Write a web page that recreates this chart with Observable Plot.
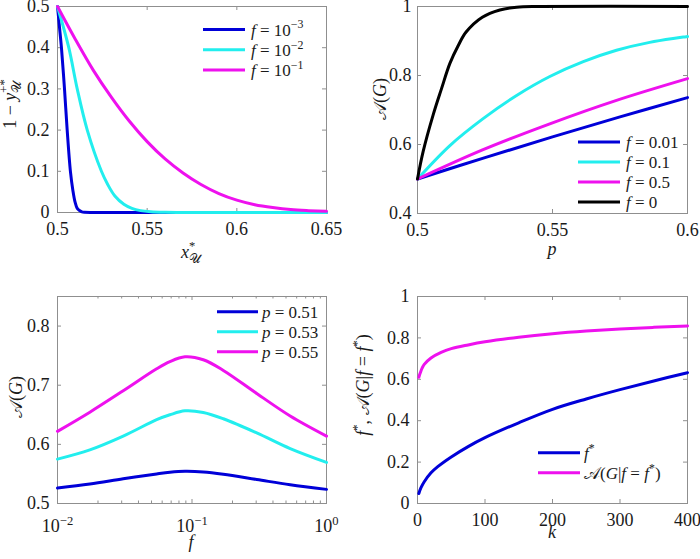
<!DOCTYPE html>
<html><head><meta charset="utf-8">
<script src="https://cdn.jsdelivr.net/npm/d3@7"></script>
<script src="https://cdn.jsdelivr.net/npm/@observablehq/plot@0.6"></script>
<style>
body{margin:0;background:#fff}
#wrap{position:relative;width:700px;height:559px;background:#fff}
#wrap svg{position:absolute;overflow:visible}
</style></head><body><div id="wrap"></div>
<script>
// ---------- Panel 1: 1 - y vs x ----------
const p1_x_f1e3 = [0.5,0.5011,0.5022,0.5039,0.5054,0.5072,0.5086,0.5098,0.511,0.5125,0.5136,0.515,0.52,0.65];
const p1_y_f1e3 = [0.5,0.45,0.4,0.3,0.2,0.1,0.053,0.025,0.01,0.004,0.0015,0.0005,0,0];
const p1_x_f1e2 = [0.5,0.5063,0.511,0.5166,0.5245,0.528,0.532,0.537,0.5415,0.5463,0.552,0.56,0.57,0.65];
const p1_y_f1e2 = [0.5,0.4,0.3,0.2,0.1,0.068,0.04,0.02,0.01,0.0045,0.0018,0.0005,0,0];
const p1_x_f1e1 = [0.5,0.51,0.52,0.53,0.54,0.55,0.56,0.57,0.58,0.59,0.6,0.61,0.62,0.63,0.64,0.65];
const p1_y_f1e1 = [0.5,0.42,0.345,0.28,0.222,0.172,0.13,0.096,0.068,0.046,0.03,0.019,0.012,0.007,0.0045,0.003];
const p1_xTicks = [0.5,0.55,0.6,0.65];
const p1_yTicks = [0,0.1,0.2,0.3,0.4,0.5];
const p1_legend = ["−3","−2","−1"];

// ---------- Panel 2: A(G) vs p ----------
const p2_x_f001 = [0.5,0.525,0.55,0.575,0.6];
const p2_y_f001 = [0.5,0.562,0.622,0.68,0.736];
const p2_x_f01 = [0.5,0.512,0.5243,0.5367,0.549,0.5614,0.5737,0.586,0.6];
const p2_y_f01 = [0.5,0.597,0.675,0.742,0.797,0.84,0.873,0.896,0.913];
const p2_x_f05 = [0.5,0.5243,0.549,0.5737,0.6];
const p2_y_f05 = [0.5,0.585,0.66,0.728,0.791];
const p2_x_f0 = [0.5,0.5021,0.5058,0.5089,0.512,0.5151,0.518,0.524,0.5305,0.5367,0.545,0.6];
const p2_y_f0 = [0.5,0.58,0.686,0.762,0.835,0.887,0.926,0.969,0.99,0.998,1,1];
const p2_xTicks = [0.5,0.55,0.6];
const p2_yTicks = [0.4,0.6,0.8,1];
const p2_legend = ["0.01","0.1","0.5","0"];

// ---------- Panel 3: A(G) vs f (log) ----------
const p3_f = [0.01,0.0174,0.0308,0.0546,0.0685,0.0887,0.1213,0.171,0.303,0.537,1];
const p3_p051 = [0.5261,0.5328,0.5417,0.55,0.5528,0.5544,0.5533,0.5494,0.5406,0.5317,0.5239];
const p3_p053 = [0.575,0.5906,0.6139,0.6417,0.65,0.6567,0.6539,0.6433,0.6194,0.5928,0.5694];
const p3_p055 = [0.622,0.6544,0.6906,0.7278,0.74,0.748,0.743,0.725,0.686,0.648,0.614];
const p3_xTicks = [0.01,0.1,1];
const p3_xTickExp = ["−2","−1","0"];
const p3_xMinor = [0.02,0.03,0.04,0.05,0.06,0.07,0.08,0.09,0.2,0.3,0.4,0.5,0.6,0.7,0.8,0.9];
const p3_yTicks = [0.5,0.6,0.7,0.8];
const p3_legend = ["0.51","0.53","0.55"];

// ---------- Panel 4: f*, A(G|f=f*) vs k ----------
const p4_k_f = [2,5,10,20,30,50,75,100,150,200,250,300,350,400];
const p4_fstar = [0.048,0.075,0.105,0.148,0.178,0.225,0.275,0.318,0.39,0.455,0.505,0.55,0.592,0.632];
const p4_k_a = [2,4,7,10,20,35,50,75,100,150,200,250,300,350,400];
const p4_astar = [0.61,0.63,0.655,0.672,0.703,0.73,0.748,0.766,0.781,0.803,0.82,0.833,0.843,0.851,0.858];
const p4_xTicks = [0,100,200,300,400];
const p4_yTicks = [0,0.2,0.4,0.6,0.8,1];

const BLUE = "#0000d8", CYAN = "#22eeee", MAG = "#ee11ee", BLACK = "#000";
const AXC = "#8f8f8f", TXT = "#1a1a1a";
const FONT = "Liberation Serif";
const wrap = document.getElementById("wrap");

function tickRules(xt, yt, innerW, innerH, len) {
  return [
    Plot.ruleX(xt, {x: d => d, insetTop: innerH - len, stroke: AXC}),
    Plot.ruleX(xt, {x: d => d, insetBottom: innerH - len, stroke: AXC}),
    Plot.ruleY(yt, {y: d => d, insetRight: innerW - len, stroke: AXC}),
    Plot.ruleY(yt, {y: d => d, insetLeft: innerW - len, stroke: AXC})
  ];
}

function makePanel(o) {
  const innerW = o.width - o.mL - o.mR, innerH = o.height - o.mT - o.mB;
  const marks = [
    Plot.frame({stroke: AXC}),
    ...tickRules(o.xTicks, o.yTicks, innerW, innerH, 4),
    ...(o.xMinor ? [
      Plot.ruleX(o.xMinor, {x: d => d, insetTop: innerH - 2.5, stroke: AXC}),
      Plot.ruleX(o.xMinor, {x: d => d, insetBottom: innerH - 2.5, stroke: AXC})
    ] : []),
    Plot.axisX(o.xTicks, {tickSize: 0, tickPadding: o.xPad ?? 10, tickFormat: o.xFormat ?? (d => String(d)), label: null, fill: TXT, fontFamily: FONT}),
    Plot.axisY(o.yTicks, {tickSize: 0, tickPadding: o.yPad ?? 8, tickFormat: d => String(d), label: null, fill: TXT, fontFamily: FONT}),
    ...o.lines.map(l => Plot.line(d3.zip(l.x, l.y), {stroke: l.c, strokeWidth: 3, curve: "catmull-rom"}))
  ];
  const svg = Plot.plot({
    width: o.width, height: o.height,
    marginLeft: o.mL, marginRight: o.mR, marginTop: o.mT, marginBottom: o.mB,
    x: {type: o.xType ?? "linear", domain: o.xDomain, label: null},
    y: {domain: o.yDomain, label: null},
    style: {fontSize: "18px", color: TXT, background: "transparent", overflow: "visible"},
    marks
  });
  svg.setAttribute("font-family", FONT);
  svg.style.removeProperty("font-family");
  svg.style.left = o.left + "px";
  svg.style.top = o.top + "px";
  wrap.appendChild(svg);
  return svg;
}

// math-ish text: parts [text, flags] flags: i italic, sup, sub, back (stack under previous)
function mtext(svg, parts, {x, y, size = 18, anchor = "start", rotate = false}) {
  const g = d3.select(svg);
  const t = g.append("text").attr("font-family", FONT).attr("font-size", size)
    .attr("fill", TXT).attr("text-anchor", anchor);
  if (rotate) t.attr("transform", `translate(${x},${y}) rotate(-90)`);
  else t.attr("x", x).attr("y", y);
  let cur = 0, prevW = 0;
  for (const [s, f = ""] of parts) {
    const sc = (f.includes("sup") || f.includes("sub")) ? 0.7 : 1;
    const sh = f.includes("sup") ? -0.42 * size : f.includes("sub") ? 0.3 * size : 0;
    const ts = t.append("tspan").text(s).attr("font-size", size * sc);
    if (f.includes("i")) ts.attr("font-style", "italic");
    if (sh - cur !== 0) ts.attr("dy", sh - cur);
    cur = sh;
    if (f.includes("back")) ts.attr("dx", -prevW);
    prevW = ts.node().getComputedTextLength();
  }
  return t;
}

function legend(svg, rows, {x1, x2, tx, y0, dy}) {
  const g = d3.select(svg);
  rows.forEach((r, i) => {
    const y = y0 + i * dy;
    g.append("line").attr("x1", x1).attr("x2", x2).attr("y1", y).attr("y2", y)
      .attr("stroke", r.c).attr("stroke-width", 3);
    mtext(svg, r.parts, {x: tx, y: y + 6, size: 17});
  });
}

// Panel 1
const s1 = makePanel({left: 0, top: 0, width: 350, height: 280, mL: 57, mR: 24, mT: 6, mB: 68,
  xDomain: [0.5, 0.65], yDomain: [0, 0.5], xTicks: p1_xTicks, yTicks: p1_yTicks,
  lines: [{x: p1_x_f1e3, y: p1_y_f1e3, c: BLUE}, {x: p1_x_f1e2, y: p1_y_f1e2, c: CYAN}, {x: p1_x_f1e1, y: p1_y_f1e1, c: MAG}]});
mtext(s1, [["x", "i"], ["*", "sup"], ["𝒰", "sub back"]], {x: 191, y: 258, anchor: "middle"});
mtext(s1, [["1 − "], ["y", "i"], ["+*", "sup"], ["𝒰", "sub back"]], {x: 16, y: 104, anchor: "middle", rotate: true});
legend(s1, [BLUE, CYAN, MAG].map((c, i) => ({c, parts: [["f", "i"], [" = 10"], [p1_legend[i], "sup"]]})),
  {x1: 203, x2: 245, tx: 251, y0: 29.5, dy: 20.2});

// Panel 2
const s2 = makePanel({left: 350, top: 0, width: 350, height: 280, mL: 67, mR: 13, mT: 6, mB: 67,
  xDomain: [0.5, 0.6], yDomain: [0.4, 1], xTicks: p2_xTicks, yTicks: p2_yTicks, yPad: 6,
  lines: [{x: p2_x_f001, y: p2_y_f001, c: BLUE}, {x: p2_x_f01, y: p2_y_f01, c: CYAN}, {x: p2_x_f05, y: p2_y_f05, c: MAG}, {x: p2_x_f0, y: p2_y_f0, c: BLACK}]});
mtext(s2, [["p", "i"]], {x: 202, y: 255, anchor: "middle"});
mtext(s2, [["𝒜("], ["G", "i"], [")"]], {x: 36, y: 99, anchor: "middle", rotate: true});
legend(s2, [BLUE, CYAN, MAG, BLACK].map((c, i) => ({c, parts: [["f", "i"], [" = " + p2_legend[i]]]})),
  {x1: 228, x2: 270, tx: 276, y0: 142, dy: 20});

// Panel 3
const s3 = makePanel({left: 0, top: 280, width: 350, height: 279, mL: 57, mR: 24, mT: 16, mB: 56,
  xType: "log", xDomain: [0.01, 1], yDomain: [0.5, 0.85], xTicks: p3_xTicks, xMinor: p3_xMinor, yTicks: p3_yTicks,
  xPad: 16, xFormat: () => "",
  lines: [{x: p3_f, y: p3_p051, c: BLUE}, {x: p3_f, y: p3_p053, c: CYAN}, {x: p3_f, y: p3_p055, c: MAG}]});
d3.select(s3).selectAll('g[aria-label="x-axis tick label"] text').each(function (d, i) {
  const t = d3.select(this).text("");
  t.append("tspan").text("10");
  t.append("tspan").text(p3_xTickExp[i]).attr("font-size", 12.6).attr("dy", -7.5);
});
mtext(s3, [["f", "i"]], {x: 191, y: 268, anchor: "middle"});
mtext(s3, [["𝒜("], ["G", "i"], [")"]], {x: 22, y: 117, anchor: "middle", rotate: true});
legend(s3, [BLUE, CYAN, MAG].map((c, i) => ({c, parts: [["p", "i"], [" = " + p3_legend[i]]]})),
  {x1: 217, x2: 258, tx: 262, y0: 31.7, dy: 20});

// Panel 4
const s4 = makePanel({left: 350, top: 280, width: 350, height: 279, mL: 67, mR: 13, mT: 16, mB: 56,
  xDomain: [0, 400], yDomain: [0, 1], xTicks: p4_xTicks, yTicks: p4_yTicks,
  lines: [{x: p4_k_f, y: p4_fstar, c: BLUE}, {x: p4_k_a, y: p4_astar, c: MAG}]});
mtext(s4, [["k", "i"]], {x: 202, y: 258, anchor: "middle"});
mtext(s4, [["f", "i"], ["*", "sup"], [", 𝒜("], ["G", "i"], ["|"], ["f", "i"], [" = "], ["f", "i"], ["*", "sup"], [")"]],
  {x: 19, y: 105, anchor: "middle", rotate: true});
legend(s4, [
  {c: BLUE, parts: [["f", "i"], ["*", "sup"]]},
  {c: MAG, parts: [["𝒜("], ["G", "i"], ["|"], ["f", "i"], [" = "], ["f", "i"], ["*", "sup"], [")"]]}
], {x1: 188, x2: 230, tx: 234, y0: 172.7, dy: 20});
</script></body></html>
